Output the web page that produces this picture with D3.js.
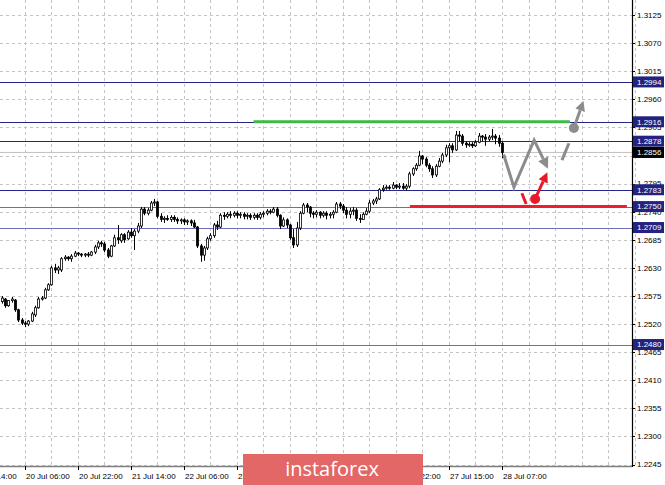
<!DOCTYPE html>
<html><head><meta charset="utf-8">
<script src="https://cdn.jsdelivr.net/npm/d3@7"></script>
<style>html,body{margin:0;padding:0;background:#fff;overflow:hidden}</style>
</head><body><svg id="c" width="665" height="485"></svg>
<script>
// ---- DATA (GBP/USD H1) ----
const opens=[1.2564,1.2569,1.2556,1.2566,1.2567,1.2548,1.2528,1.2522,1.2520,1.2526,
1.2538,1.2552,1.2569,1.2571,1.2587,1.2597,1.2630,1.2626,1.2626,1.2648,
1.2651,1.2648,1.2653,1.2659,1.2657,1.2655,1.2657,1.2655,1.2661,1.2671,
1.2679,1.2677,1.2665,1.2653,1.2673,1.2689,1.2683,1.2695,1.2687,1.2700,
1.2693,1.2702,1.2712,1.2745,1.2737,1.2743,1.2757,1.2759,1.2731,1.2725,
1.2727,1.2725,1.2729,1.2725,1.2722,1.2724,1.2720,1.2722,1.2718,1.2710,
1.2673,1.2655,1.2669,1.2687,1.2693,1.2714,1.2710,1.2733,1.2731,1.2735,
1.2733,1.2737,1.2733,1.2735,1.2731,1.2733,1.2729,1.2733,1.2729,1.2735,
1.2737,1.2741,1.2739,1.2745,1.2733,1.2712,1.2724,1.2714,1.2689,1.2675,
1.2708,1.2737,1.2753,1.2749,1.2737,1.2735,1.2739,1.2733,1.2737,1.2733,
1.2735,1.2739,1.2755,1.2751,1.2743,1.2735,1.2741,1.2743,1.2727,1.2725,
1.2735,1.2741,1.2757,1.2761,1.2765,1.2783,1.2786,1.2788,1.2786,1.2792,
1.2788,1.2790,1.2786,1.2790,1.2814,1.2824,1.2831,1.2849,1.2843,1.2831,
1.2824,1.2812,1.2829,1.2839,1.2851,1.2865,1.2869,1.2861,1.2890,1.2888,
1.2874,1.2871,1.2872,1.2869,1.2876,1.2888,1.2886,1.2882,1.2886,1.2888,
1.2884,1.2874];
const highs=[1.2575,1.2571,1.2567,1.2573,1.2569,1.2550,1.2532,1.2526,1.2528,1.2544,
1.2556,1.2573,1.2575,1.2591,1.2600,1.2634,1.2638,1.2634,1.2651,1.2655,
1.2653,1.2657,1.2663,1.2661,1.2659,1.2659,1.2661,1.2663,1.2675,1.2683,
1.2683,1.2681,1.2669,1.2675,1.2695,1.2714,1.2698,1.2698,1.2704,1.2708,
1.2706,1.2718,1.2749,1.2749,1.2747,1.2761,1.2765,1.2761,1.2737,1.2731,
1.2733,1.2733,1.2733,1.2729,1.2727,1.2727,1.2725,1.2725,1.2724,1.2712,
1.2677,1.2673,1.2691,1.2698,1.2718,1.2722,1.2737,1.2739,1.2739,1.2741,
1.2741,1.2741,1.2739,1.2739,1.2737,1.2737,1.2737,1.2737,1.2739,1.2741,
1.2745,1.2745,1.2749,1.2749,1.2735,1.2729,1.2727,1.2716,1.2706,1.2720,
1.2741,1.2757,1.2757,1.2751,1.2741,1.2743,1.2741,1.2741,1.2741,1.2739,
1.2743,1.2759,1.2759,1.2755,1.2749,1.2747,1.2749,1.2747,1.2735,1.2739,
1.2747,1.2763,1.2765,1.2769,1.2786,1.2792,1.2792,1.2792,1.2798,1.2794,
1.2796,1.2796,1.2794,1.2818,1.2827,1.2835,1.2859,1.2851,1.2847,1.2835,
1.2829,1.2833,1.2845,1.2855,1.2871,1.2874,1.2874,1.2898,1.2898,1.2892,
1.2878,1.2876,1.2876,1.2880,1.2894,1.2890,1.2892,1.2890,1.2902,1.2892,
1.2890,1.2878];
const lows=[1.2560,1.2552,1.2554,1.2562,1.2544,1.2524,1.2518,1.2514,1.2516,1.2524,
1.2534,1.2550,1.2566,1.2569,1.2585,1.2595,1.2620,1.2618,1.2622,1.2644,
1.2644,1.2642,1.2651,1.2653,1.2651,1.2651,1.2651,1.2653,1.2657,1.2667,
1.2671,1.2661,1.2649,1.2651,1.2671,1.2677,1.2679,1.2679,1.2685,1.2689,
1.2665,1.2698,1.2708,1.2733,1.2733,1.2741,1.2751,1.2727,1.2720,1.2718,
1.2722,1.2720,1.2720,1.2716,1.2716,1.2714,1.2714,1.2712,1.2708,1.2669,
1.2642,1.2644,1.2665,1.2683,1.2689,1.2704,1.2708,1.2724,1.2727,1.2727,
1.2729,1.2727,1.2727,1.2725,1.2725,1.2724,1.2725,1.2724,1.2725,1.2729,
1.2733,1.2735,1.2737,1.2729,1.2706,1.2710,1.2708,1.2685,1.2669,1.2671,
1.2704,1.2735,1.2739,1.2729,1.2727,1.2729,1.2727,1.2729,1.2725,1.2727,
1.2727,1.2737,1.2745,1.2737,1.2727,1.2727,1.2733,1.2722,1.2718,1.2724,
1.2733,1.2737,1.2753,1.2755,1.2763,1.2779,1.2783,1.2783,1.2784,1.2784,
1.2784,1.2783,1.2781,1.2786,1.2810,1.2820,1.2829,1.2833,1.2827,1.2818,
1.2806,1.2808,1.2827,1.2835,1.2847,1.2837,1.2855,1.2859,1.2878,1.2869,
1.2865,1.2867,1.2865,1.2867,1.2874,1.2878,1.2869,1.2878,1.2880,1.2872,
1.2867,1.2845];
const closes=[1.2571,1.2556,1.2566,1.2569,1.2548,1.2528,1.2522,1.2520,1.2526,1.2540,
1.2552,1.2569,1.2571,1.2587,1.2597,1.2630,1.2626,1.2630,1.2648,1.2651,
1.2648,1.2653,1.2659,1.2657,1.2655,1.2657,1.2655,1.2661,1.2671,1.2679,
1.2677,1.2665,1.2653,1.2673,1.2689,1.2685,1.2695,1.2685,1.2700,1.2693,
1.2702,1.2712,1.2745,1.2737,1.2743,1.2757,1.2759,1.2731,1.2725,1.2727,
1.2725,1.2729,1.2725,1.2722,1.2724,1.2720,1.2722,1.2718,1.2710,1.2673,
1.2655,1.2669,1.2687,1.2693,1.2714,1.2710,1.2733,1.2731,1.2735,1.2733,
1.2737,1.2733,1.2735,1.2731,1.2733,1.2729,1.2733,1.2729,1.2735,1.2737,
1.2741,1.2739,1.2745,1.2733,1.2712,1.2724,1.2714,1.2689,1.2675,1.2708,
1.2737,1.2753,1.2749,1.2737,1.2735,1.2739,1.2733,1.2737,1.2733,1.2735,
1.2739,1.2755,1.2751,1.2743,1.2735,1.2741,1.2743,1.2727,1.2725,1.2735,
1.2741,1.2757,1.2761,1.2765,1.2783,1.2786,1.2788,1.2786,1.2792,1.2788,
1.2790,1.2786,1.2790,1.2814,1.2824,1.2831,1.2849,1.2843,1.2831,1.2824,
1.2812,1.2829,1.2839,1.2851,1.2865,1.2869,1.2861,1.2890,1.2888,1.2874,
1.2871,1.2872,1.2869,1.2876,1.2888,1.2886,1.2882,1.2886,1.2888,1.2884,
1.2874,1.2856];

const timeLabels=["17 Jul 14:00","20 Jul 06:00","20 Jul 22:00","21 Jul 14:00","22 Jul 06:00","22 Jul 22:00","23 Jul 14:00","24 Jul 06:00","24 Jul 22:00","27 Jul 15:00","28 Jul 07:00"];
const timeLabelBars=[-9,7,23,39,55,71,87,103,119,135,151];
const gridBars=[-1,7,15,23,31,39,47,55,63,71,79,87,95,103,111,119,127,135,143,151,159,167,175,183,191];
const priceTicks=["1.3125","1.3070","1.3015","1.2960","1.2905","1.2850","1.2795","1.2740","1.2685","1.2630","1.2575","1.2520","1.2465","1.2410","1.2355","1.2300","1.2245"];
const levels=[1.2994,1.2916,1.2878,1.2783,1.2750,1.2709,1.2480];
const currentPrice=1.2856;
// forecast marks: [barIndex, price]
const greenLine=[[76,1.2916],[171.5,1.2916]];
const redLine=[[123.2,1.2750],[188.7,1.2750]];
const grayZigzag=[[151.5,1.2852],[154.6,1.2788],[160.7,1.2880],[164.9,1.2824]];
const grayDash=[[169.1,1.2841],[171.2,1.2874]];
const grayUp=[[172.7,1.2904],[175.6,1.2957]];
const redDash=[[157.0,1.2776],[158.3,1.2755]];
const redUp=[[161.0,1.2765],[164.7,1.2817]];

// ---- DRAW ----
const svg=d3.select("#c");
const plotR=632, plotB=466;
const x=d3.scaleLinear().domain([0,151]).range([1.8,502]);
const y=d3.scaleLinear().domain([1.2245,1.3125]).range([464.6,15]);
const font="'Liberation Sans', Arial, sans-serif";

svg.append("rect").attr("width",665).attr("height",485).attr("fill","#fff");

// grid
const g=svg.append("g");
g.selectAll(".hg").data(priceTicks).enter().append("line")
 .attr("x1",0).attr("x2",plotR).attr("y1",d=>Math.round(y(+d))+0.5).attr("y2",d=>Math.round(y(+d))+0.5)
 .attr("stroke","#c4c4c4").attr("stroke-dasharray","3,3").attr("stroke-width",1);
g.selectAll(".vg").data(gridBars).enter().append("line")
 .attr("x1",d=>Math.round(x(d))+0.5).attr("x2",d=>Math.round(x(d))+0.5).attr("y1",0).attr("y2",plotB)
 .attr("stroke","#c4c4c4").attr("stroke-dasharray","3,3").attr("stroke-width",1);

// current price line
svg.append("line").attr("x1",0).attr("x2",plotR).attr("y1",y(currentPrice)).attr("y2",y(currentPrice))
 .attr("stroke","#c0c0c0").attr("stroke-width",1);

// level lines
const levelColor=v=> (v===1.2750||v===1.2709||v===1.2480)?"#6c6cb8":"#25258c";
svg.selectAll(".lv").data(levels).enter().append("line")
 .attr("x1",0).attr("x2",plotR).attr("y1",d=>Math.round(y(d))+0.5).attr("y2",d=>Math.round(y(d))+0.5)
 .attr("stroke",levelColor).attr("stroke-width",1.2);

// signal lines
const lineGen=d3.line().x(d=>x(d[0])).y(d=>y(d[1]));
svg.append("path").attr("d",lineGen(greenLine)).attr("stroke","#3dbb45").attr("stroke-width",3).attr("fill","none");
svg.append("path").attr("d",lineGen(redLine)).attr("stroke","#ec1f2b").attr("stroke-width",3).attr("fill","none");

// candles
const bars=d3.range(opens.length);
const cg=svg.append("g");
cg.selectAll(".wick").data(bars).enter().append("line")
 .attr("x1",i=>Math.round(x(i))+0.5).attr("x2",i=>Math.round(x(i))+0.5)
 .attr("y1",i=>y(highs[i])).attr("y2",i=>y(lows[i]))
 .attr("stroke","#000").attr("stroke-width",1);
cg.selectAll(".body").data(bars).enter().append("rect")
 .attr("x",i=>Math.round(x(i))-0.5).attr("width",2)
 .attr("y",i=>y(Math.max(opens[i],closes[i])))
 .attr("height",i=>Math.max(1,Math.abs(y(opens[i])-y(closes[i]))))
 .attr("fill",i=>closes[i]>=opens[i]?"#fff":"#000")
 .attr("stroke","#000").attr("stroke-width",0.8);

// arrows
function arrowHead(p0,p1,color,len,half){
  const ax=x(p0[0]),ay=y(p0[1]),bx=x(p1[0]),by=y(p1[1]);
  const dx=bx-ax,dy=by-ay,L=Math.hypot(dx,dy),ux=dx/L,uy=dy/L;
  const baseX=bx-ux*len, baseY=by-uy*len;
  svg.append("path").attr("d",`M${bx},${by}L${baseX-uy*half},${baseY+ux*half}L${baseX+uy*half},${baseY-ux*half}Z`).attr("fill",color);
  return [baseX,baseY];
}
const gray="#8c8c8c", red="#e8192b";
// zigzag
{
  const pts=grayZigzag.map(d=>[x(d[0]),y(d[1])]);
  const n=pts.length;
  const b=arrowHead(grayZigzag[n-2],grayZigzag[n-1],gray,11,5.5);
  const p2=pts.slice(0,n-1).concat([b]);
  svg.append("path").attr("d",d3.line()(p2)).attr("stroke",gray).attr("stroke-width",3).attr("fill","none").attr("stroke-linejoin","miter");
}
svg.append("path").attr("d",lineGen(grayDash)).attr("stroke",gray).attr("stroke-width",3).attr("fill","none");
{
  const b=arrowHead(grayUp[0],grayUp[1],gray,10,5);
  svg.append("line").attr("x1",x(grayUp[0][0])).attr("y1",y(grayUp[0][1])).attr("x2",b[0]).attr("y2",b[1]).attr("stroke",gray).attr("stroke-width",3);
  svg.append("circle").attr("cx",x(grayUp[0][0])).attr("cy",y(grayUp[0][1])).attr("r",5).attr("fill",gray);
}
svg.append("path").attr("d",lineGen(redDash)).attr("stroke",red).attr("stroke-width",3).attr("fill","none");
{
  const b=arrowHead(redUp[0],redUp[1],red,10,5);
  svg.append("line").attr("x1",x(redUp[0][0])).attr("y1",y(redUp[0][1])).attr("x2",b[0]).attr("y2",b[1]).attr("stroke",red).attr("stroke-width",3);
  svg.append("circle").attr("cx",x(redUp[0][0])).attr("cy",y(redUp[0][1])).attr("r",5).attr("fill",red);
}

// axes lines
svg.append("line").attr("x1",0).attr("x2",plotR).attr("y1",plotB+0.5).attr("y2",plotB+0.5).attr("stroke","#808080").attr("stroke-width",1.5);
svg.append("line").attr("x1",plotR+0.5).attr("x2",plotR+0.5).attr("y1",0).attr("y2",plotB+1).attr("stroke","#000").attr("stroke-width",1.2);

// price axis labels
const pa=svg.append("g");
pa.selectAll(".pt").data(priceTicks).enter().append("line")
 .attr("x1",plotR).attr("x2",plotR+3).attr("y1",d=>Math.round(y(+d))+0.5).attr("y2",d=>Math.round(y(+d))+0.5).attr("stroke","#000");
pa.selectAll(".pl").data(priceTicks).enter().append("text")
 .attr("x",637).attr("y",d=>y(+d)).attr("dy","0.35em").text(d=>d)
 .attr("font-family",font).attr("font-size","8px").attr("fill","#000");
// level label boxes
const boxes=levels.map(v=>({v,fill:"#23237f",txt:"#fff"})).concat([{v:currentPrice,fill:"#000",txt:"#fff"}]);
const bg=pa.selectAll(".bx").data(boxes).enter().append("g");
bg.append("rect").attr("x",633).attr("width",31).attr("y",d=>y(d.v)-5.5).attr("height",11).attr("fill",d=>d.fill);
bg.append("text").attr("x",637).attr("y",d=>y(d.v)).attr("dy","0.35em").text(d=>d.v.toFixed(4))
 .attr("font-family",font).attr("font-size","8px").attr("fill",d=>d.txt);

// time axis
const ta=svg.append("g");
ta.selectAll(".tt").data(timeLabelBars).enter().append("line")
 .attr("x1",d=>Math.round(x(d))+0.5).attr("x2",d=>Math.round(x(d))+0.5).attr("y1",plotB).attr("y2",plotB+4).attr("stroke","#000");
ta.selectAll(".tl").data(timeLabels).enter().append("text")
 .attr("x",(d,i)=>x(timeLabelBars[i])+1).attr("y",479).text(d=>d)
 .attr("font-family",font).attr("font-size","8px").attr("fill","#000");

// watermark
svg.append("rect").attr("x",243).attr("y",454).attr("width",180).attr("height",31).attr("fill","#e36767");
svg.append("text").attr("x",332).attr("y",476).attr("text-anchor","middle").text("instaforex")
 .attr("font-family","'Open Sans', Roboto, sans-serif").attr("font-size","20px").attr("fill","#fff");
</script></body></html>
